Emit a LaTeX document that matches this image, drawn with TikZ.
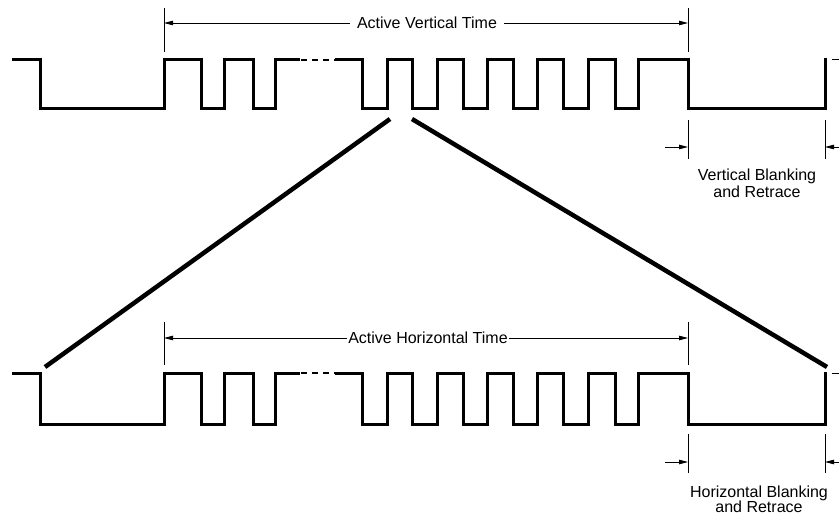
\documentclass[tikz,border=0pt]{standalone}
\usepackage{fontspec}
\setmainfont{Liberation Sans}
\usetikzlibrary{arrows.meta}
\tikzset{
  wave/.style={line width=3pt, line join=miter, line cap=butt},
  dimline/.style={line width=0.9pt},
  dimarrow/.style={line width=0.9pt, -{Triangle[length=9pt,width=4.5pt]}},
  zoomline/.style={line width=4.5pt},
  dashpart/.style={line width=1.3pt, dash pattern=on 6pt off 5pt},
  lbl/.style={font=\fontsize{16}{17}\selectfont, inner sep=0pt},
}
\newcommand\pulsetrain[2]{% #1 = high y, #2 = low y
  \draw[wave] (12,#1) -| (40,#2) -| (164,#1) -| (201,#2) -| (224,#1) -| (253,#2) -| (275,#1) -- (300,#1);
  \draw[dashpart] (301,#1) -- (335,#1);
  \draw[wave] (335,#1) -| (362,#2) -| (387,#1) -| (412,#2) -| (437,#1) -| (463,#2) -| (487,#1)
     -| (513,#2) -| (537,#1) -| (563,#2) -| (588,#1) -| (615,#2) -| (638,#1) -| (688,#2) -| (825,#1) -- (827,#1);
  \draw[line width=1pt] (832,#1) -- (839,#1);
}
\begin{document}
\begin{tikzpicture}[x=1pt,y=-1pt]
  \fill[white] (0,0) rectangle (839,516);
  \useasboundingbox (0,0) rectangle (839,516);

  % waveforms
  \pulsetrain{60}{109}
  \pulsetrain{373}{424}

  % zoom lines
  \coordinate (zl1) at (390,119);
  \coordinate (zl2) at (45,367);
  \coordinate (zr1) at (412,119);
  \coordinate (zr2) at (827,367);
  \draw[zoomline] (zl1) -- (zl2);
  \draw[zoomline] (zr1) -- (zr2);

  % active vertical time
  \draw[dimline] (164,8) -- (164,52);
  \draw[dimline] (688,8) -- (688,52);
  \coordinate (avl) at (164,23);
  \coordinate (avr) at (688,23);
  \node[lbl, inner xsep=7pt] (avt) at (427,23) {Active Vertical Time};
  \draw[dimarrow] (avt) -- (avl);
  \draw[dimarrow] (avt) -- (avr);

  % vertical blanking
  \draw[dimline] (688,120) -- (688,159);
  \draw[dimline] (825,120) -- (825,159);
  \coordinate (vbl0) at (665,147);
  \coordinate (vbl1) at (688,147);
  \coordinate (vbr0) at (839,147);
  \coordinate (vbr1) at (825,147);
  \draw[dimarrow] (vbl0) -- (vbl1);
  \draw[dimarrow] (vbr0) -- (vbr1);
  \node[lbl, align=center] (vbt) at (757,183.5) {Vertical Blanking\\and Retrace};

  % active horizontal time
  \draw[dimline] (164,322) -- (164,365);
  \draw[dimline] (688,322) -- (688,365);
  \coordinate (ahl) at (164,338);
  \coordinate (ahr) at (688,338);
  \node[lbl, inner xsep=1.5pt] (aht) at (428,338) {Active Horizontal Time};
  \draw[dimarrow] (aht) -- (ahl);
  \draw[dimarrow] (aht) -- (ahr);

  % horizontal blanking
  \draw[dimline] (688,434) -- (688,473);
  \draw[dimline] (825,434) -- (825,473);
  \coordinate (hbl0) at (665,462);
  \coordinate (hbl1) at (688,462);
  \coordinate (hbr0) at (839,462);
  \coordinate (hbr1) at (825,462);
  \draw[dimarrow] (hbl0) -- (hbl1);
  \draw[dimarrow] (hbr0) -- (hbr1);
  \node[lbl, align=center, font=\fontsize{16}{15}\selectfont] (hbt) at (759,499.5) {Horizontal Blanking\\and Retrace};
\end{tikzpicture}
\end{document}
